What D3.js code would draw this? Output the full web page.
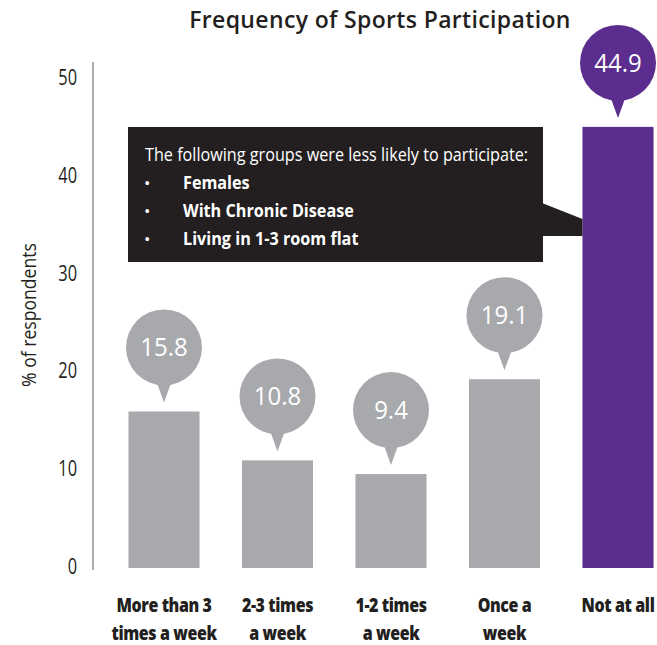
<!DOCTYPE html>
<html>
<head>
<meta charset="utf-8">
<script src="https://cdn.jsdelivr.net/npm/d3@7"></script>
<style>
  body { margin: 0; background: #fff; }
  svg { display: block; }
</style>
</head>
<body>
<svg id="chart" width="657" height="645"></svg>
<script>
// Sports participation frequency (% of respondents)
const categories = ["More than 3\ntimes a week", "2-3 times\na week", "1-2 times\na week", "Once a\nweek", "Not at all"];
const values = [15.8, 10.8, 9.4, 19.1, 44.9];
const yTicks = [0, 10, 20, 30, 40, 50];
const highlighted = "Not at all";
const calloutTitle = "The following groups were less likely to participate:";
const calloutItems = ["Females", "With Chronic Disease", "Living in 1-3 room flat"];

const family = "'Open Sans','Noto Sans',sans-serif";
const grey = "#a7a9ac";
const purple = "#5b2d8e";
const ink = "#231f20";

const svg = d3.select("#chart");

// condensed text: glyphs squeezed horizontally around the anchor point
function label(parent, x, y, txt, opts) {
  const o = Object.assign({ size: 18, weight: 400, sx: 1, anchor: "start", fill: ink }, opts);
  return parent.append("text")
    .attr("transform", `translate(${x},${y}) scale(${o.sx},1)`)
    .attr("text-anchor", o.anchor)
    .attr("font-family", family)
    .attr("font-weight", o.weight)
    .attr("font-size", o.size)
    .attr("fill", o.fill)
    .text(txt);
}

const x = d3.scaleBand()
  .domain(categories)
  .range([107.25, 674.75])
  .paddingInner(0.374)
  .paddingOuter(0.187);

const y = d3.scaleLinear().domain([0, 50]).range([566, 77]);

// title
svg.append("text")
  .attr("x", 380).attr("y", 28)
  .attr("text-anchor", "middle")
  .attr("font-family", family)
  .attr("font-weight", 600)
  .attr("font-size", 23)
  .attr("letter-spacing", 0.35)
  .attr("fill", ink)
  .text("Frequency of Sports Participation");

// y axis: plain line with tick labels, no tick marks
const yAxis = d3.axisLeft(y).tickValues(yTicks).tickSize(0).tickPadding(0);
const gy = svg.append("g").attr("transform", "translate(77,0)").call(yAxis);
gy.select(".domain").remove();
gy.selectAll(".tick text")
  .attr("x", null).attr("dy", "0.36em")
  .attr("transform", "scale(0.78,1)")
  .attr("font-family", family)
  .attr("font-size", 21)
  .attr("fill", ink);
svg.append("line")
  .attr("x1", 93).attr("x2", 93)
  .attr("y1", 62).attr("y2", 570)
  .attr("stroke", "#8a8a8c").attr("stroke-width", 1.4);

svg.append("text")
  .attr("transform", "translate(36,315) rotate(-90) scale(0.88,1)")
  .attr("text-anchor", "middle")
  .attr("font-family", family)
  .attr("font-size", 20)
  .attr("fill", ink)
  .text("% of respondents");

// bars
const colorOf = c => c === highlighted ? purple : grey;
svg.append("g").selectAll("rect")
  .data(categories)
  .join("rect")
  .attr("x", c => x(c))
  .attr("y", (c, i) => y(values[i]))
  .attr("width", x.bandwidth())
  .attr("height", (c, i) => y(0) + 2 - y(values[i]))
  .attr("fill", colorOf);

// value bubbles: circle with a pointer down to the bar
const r = 38;
const bubbles = svg.append("g").selectAll("g")
  .data(categories)
  .join("g")
  .attr("transform", (c, i) => `translate(${x(c) + x.bandwidth() / 2},${y(values[i]) - 9})`);
bubbles.append("path")
  .attr("d", "M-9,-25 L0,0 L9,-25 Z")
  .attr("fill", colorOf);
bubbles.append("circle")
  .attr("cx", 0).attr("cy", -55).attr("r", r)
  .attr("fill", colorOf);
bubbles.append("text")
  .attr("x", 0).attr("y", -55)
  .attr("dy", "0.35em")
  .attr("text-anchor", "middle")
  .attr("font-family", family)
  .attr("font-size", 25)
  .attr("transform", "scale(0.96,1)")
  .attr("fill", "#fff")
  .text((c, i) => values[i].toFixed(1));

// category labels (two lines each)
const xl = svg.append("g").selectAll("text")
  .data(categories)
  .join("text")
  .attr("transform", c => `translate(${x(c) + x.bandwidth() / 2},612) scale(0.8,1)`)
  .attr("text-anchor", "middle")
  .attr("font-family", family)
  .attr("font-weight", 800)
  .attr("font-size", 20)
  .attr("letter-spacing", -0.5)
  .attr("fill", ink);
xl.selectAll("tspan")
  .data(c => c.split("\n"))
  .join("tspan")
  .attr("x", 0)
  .attr("dy", (d, i) => i === 0 ? 0 : 28)
  .text(d => d);

// callout box pointing at the highlighted bar
const hx = x(highlighted);
const box = svg.append("g");
box.append("rect")
  .attr("x", 128).attr("y", 127)
  .attr("width", 415).attr("height", 135)
  .attr("fill", ink);
box.append("path")
  .attr("d", `M542,203 L${hx},219 L${hx},236 L542,236 Z`)
  .attr("fill", ink);
label(box, 145, 161, calloutTitle, { size: 18, sx: 0.9, fill: "#fff" });
calloutItems.forEach((d, i) => {
  const yy = 189 + i * 28;
  label(box, 144, yy, "•", { size: 17, fill: "#fff" });
  label(box, 183, yy, d, { size: 18, weight: 700, sx: 0.9, fill: "#fff" });
});
</script>
</body>
</html>
